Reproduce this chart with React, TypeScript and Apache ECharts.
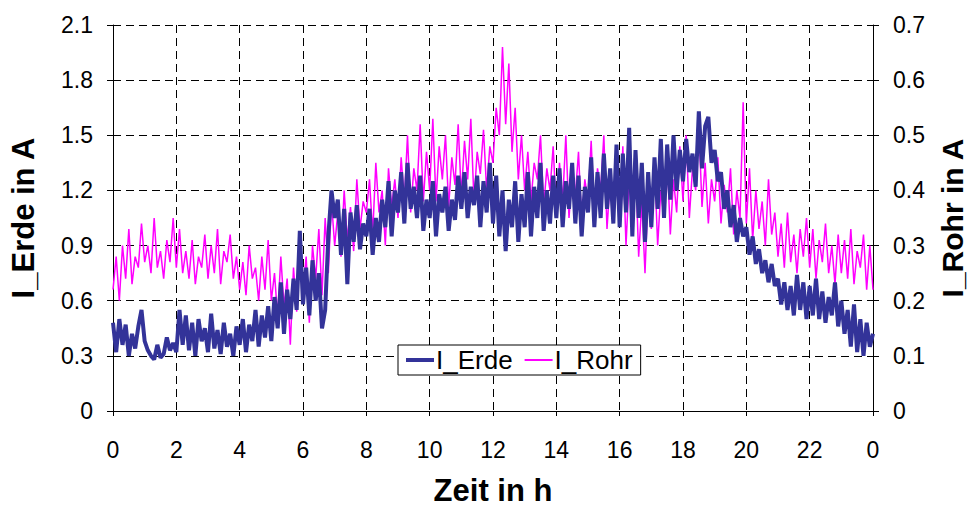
import React, { useEffect, useRef } from "react";
import * as echarts from "echarts";

// Sampling step of the readings: one value every 0.1 h, from 0 h to 24 h
const STEP_H = 0.1;

const xTickLabels = ["0", "2", "4", "6", "8", "10", "12", "14", "16", "18", "20", "22", "0"];

// I_Erde in A (left axis)
const iErde: number[] = [
  0.48, 0.32, 0.50, 0.36, 0.47, 0.30, 0.42, 0.34, 0.46, 0.55,
  0.38, 0.33, 0.30, 0.28, 0.36, 0.29, 0.31, 0.40, 0.33, 0.37,
  0.32, 0.55, 0.36, 0.52, 0.33, 0.48, 0.30, 0.50, 0.38, 0.45,
  0.32, 0.53, 0.34, 0.44, 0.31, 0.48, 0.35, 0.42, 0.30, 0.46,
  0.36, 0.50, 0.32, 0.47, 0.38, 0.55, 0.35, 0.52, 0.40, 0.57,
  0.38, 0.62, 0.45, 0.70, 0.42, 0.66, 0.50, 0.72, 0.55, 0.98,
  0.58, 0.78, 0.52, 0.82, 0.60, 0.75, 0.45, 0.55, 0.95, 1.20,
  1.05, 1.15, 0.85, 1.10, 0.69, 1.08, 0.92, 1.12, 0.88, 1.02,
  0.95, 1.10, 0.85, 1.05, 0.92, 1.15, 1.00, 1.25, 0.95, 1.20,
  1.08, 1.30, 1.02, 1.35, 1.10, 1.22, 1.05, 1.28, 0.98, 1.15,
  1.05, 1.25, 0.95, 1.18, 1.08, 1.22, 0.98, 1.15, 1.04, 1.28,
  1.10, 1.30, 1.05, 1.22, 1.12, 1.28, 1.00, 1.25, 1.08, 1.35,
  1.02, 1.28, 0.95, 1.20, 0.87, 1.15, 1.00, 1.25, 0.92, 1.18,
  1.00, 1.30, 0.95, 1.22, 1.05, 1.35, 0.98, 1.20, 1.02, 1.28,
  1.05, 1.32, 1.00, 1.25, 1.10, 1.35, 1.02, 1.28, 0.95, 1.22,
  1.08, 1.38, 1.00, 1.30, 1.05, 1.40, 1.10, 1.32, 1.02, 1.45,
  1.00, 1.40, 1.08, 1.54, 0.95, 1.42, 1.05, 1.35, 0.92, 1.30,
  1.00, 1.38, 1.10, 1.48, 1.05, 1.45, 1.15, 1.50, 1.20, 1.42,
  1.25, 1.48, 1.30, 1.40, 1.22, 1.63, 1.32, 1.55, 1.60, 1.35,
  1.42, 1.25, 1.30, 1.10, 1.20, 1.00, 1.12, 0.92, 1.05, 0.95,
  1.00, 0.85, 0.95, 0.80, 0.88, 0.75, 0.82, 0.70, 0.80, 0.68,
  0.72, 0.58, 0.70, 0.55, 0.68, 0.52, 0.74, 0.55, 0.70, 0.50,
  0.68, 0.52, 0.72, 0.50, 0.65, 0.48, 0.62, 0.52, 0.70, 0.46,
  0.60, 0.42, 0.55, 0.35, 0.58, 0.32, 0.50, 0.30, 0.48, 0.35,
  0.42,
];

// I_Rohr in A (right axis)
const iRohr: number[] = [
  0.22, 0.28, 0.20, 0.30, 0.24, 0.33, 0.23, 0.28, 0.26, 0.34,
  0.27, 0.30, 0.25, 0.35, 0.26, 0.29, 0.24, 0.31, 0.27, 0.35,
  0.26, 0.33, 0.25, 0.29, 0.24, 0.31, 0.23, 0.28, 0.26, 0.32,
  0.24, 0.30, 0.25, 0.33, 0.23, 0.29, 0.27, 0.32, 0.24, 0.28,
  0.22, 0.27, 0.21, 0.30, 0.24, 0.26, 0.20, 0.28, 0.22, 0.31,
  0.20, 0.25, 0.17, 0.28, 0.19, 0.24, 0.12, 0.26, 0.18, 0.30,
  0.22, 0.28, 0.16, 0.30, 0.24, 0.33, 0.21, 0.35, 0.25, 0.38,
  0.30, 0.36, 0.28, 0.40, 0.31, 0.37, 0.29, 0.42, 0.33, 0.38,
  0.36, 0.42, 0.32, 0.45, 0.36, 0.40, 0.30, 0.44, 0.37, 0.42,
  0.35, 0.46, 0.38, 0.50, 0.36, 0.44, 0.40, 0.52, 0.38, 0.47,
  0.40, 0.53, 0.38, 0.48, 0.42, 0.50, 0.37, 0.46, 0.41, 0.52,
  0.39, 0.49, 0.42, 0.53, 0.38, 0.47, 0.43, 0.51, 0.40, 0.48,
  0.45, 0.55, 0.50, 0.66, 0.52, 0.63, 0.47, 0.55, 0.42, 0.50,
  0.40, 0.47, 0.38, 0.45, 0.42, 0.50, 0.37, 0.44, 0.40, 0.48,
  0.36, 0.45, 0.38, 0.50, 0.35, 0.43, 0.39, 0.47, 0.34, 0.42,
  0.38, 0.49, 0.35, 0.44, 0.40, 0.50, 0.33, 0.42, 0.37, 0.46,
  0.34, 0.48, 0.30, 0.42, 0.36, 0.45, 0.28, 0.38, 0.25, 0.40,
  0.33, 0.45, 0.30, 0.40, 0.35, 0.46, 0.32, 0.42, 0.36, 0.48,
  0.38, 0.50, 0.35, 0.44, 0.40, 0.52, 0.37, 0.45, 0.34, 0.42,
  0.38, 0.46, 0.34, 0.41, 0.36, 0.44, 0.32, 0.40, 0.35, 0.56,
  0.34, 0.44, 0.31, 0.40, 0.33, 0.38, 0.30, 0.42, 0.32, 0.36,
  0.28, 0.34, 0.26, 0.36, 0.27, 0.32, 0.25, 0.33, 0.28, 0.35,
  0.26, 0.33, 0.24, 0.31, 0.27, 0.34, 0.25, 0.30, 0.23, 0.32,
  0.25, 0.31, 0.24, 0.33, 0.23, 0.29, 0.26, 0.32, 0.22, 0.30,
  0.22,
];

const FONT = "'Liberation Sans', Arial, sans-serif";

export default function App() {
  const ref = useRef<HTMLDivElement>(null);

  useEffect(() => {
    if (!ref.current) return;
    const chart = echarts.init(ref.current, undefined, { renderer: "svg" });

    const toPairs = (arr: number[]) =>
      arr.map((v, i) => [Math.round(i * STEP_H * 10) / 10, v]);

    const dashed = { color: "#000", width: 1, type: [8, 5] as any };

    chart.setOption({
      animation: false,
      backgroundColor: "#fff",
      textStyle: { fontFamily: FONT, color: "#000" },
      grid: {
        left: 113,
        right: 104,
        top: 25,
        bottom: 97,
        containLabel: false,
        outerBoundsMode: "none",
      },
      legend: {
        left: 398,
        top: 345,
        orient: "horizontal",
        backgroundColor: "#fff",
        borderColor: "#000",
        borderWidth: 1,
        borderRadius: 0,
        padding: [2, 8],
        itemGap: 12,
        itemWidth: 28,
        itemHeight: 14,
        symbolKeepAspect: true,
        textStyle: { fontFamily: FONT, fontSize: 26, color: "#000", padding: [0, 0, 0, -3] },
        data: [
          { name: "I_Erde", icon: "path://M0 0H28V4H0Z", itemStyle: { color: "#333399" } },
          { name: "I_Rohr", icon: "path://M0 0H28V2H0Z", itemStyle: { color: "#FF00FF" } },
        ],
      },
      xAxis: {
        type: "value",
        min: 0,
        max: 24,
        interval: 2,
        name: "Zeit in h",
        nameLocation: "middle",
        nameGap: 64,
        nameTextStyle: { fontFamily: FONT, fontSize: 31, fontWeight: "bold", color: "#000" },
        axisLine: { show: true, lineStyle: { color: "#000", width: 1 } },
        axisTick: { show: true, length: 5, lineStyle: { color: "#000" } },
        axisLabel: {
          fontFamily: FONT,
          fontSize: 23,
          color: "#000",
          margin: 27,
          formatter: (v: number) => xTickLabels[Math.round(v / 2)] ?? String(v),
        },
        splitLine: { show: true, lineStyle: dashed },
      },
      yAxis: [
        {
          type: "value",
          min: 0,
          max: 2.1,
          interval: 0.3,
          name: "I_Erde in A",
          nameLocation: "middle",
          nameGap: 74,
          nameTextStyle: { fontFamily: FONT, fontSize: 31, fontWeight: "bold", color: "#000" },
          axisLine: { show: true, lineStyle: { color: "#000", width: 1 } },
          axisTick: { show: true, length: 6, lineStyle: { color: "#000" } },
          axisLabel: {
            fontFamily: FONT,
            fontSize: 23,
            color: "#000",
            margin: 20,
            formatter: (v: number) => (v === 0 ? "0" : v.toFixed(1)),
          },
          splitLine: { show: true, lineStyle: dashed },
        },
        {
          type: "value",
          min: 0,
          max: 0.7,
          interval: 0.1,
          name: "I_Rohr in A",
          nameLocation: "middle",
          nameGap: 64,
          nameRotate: 90,
          nameTextStyle: { fontFamily: FONT, fontSize: 30, fontWeight: "bold", color: "#000" },
          axisLine: { show: true, lineStyle: { color: "#000", width: 1 } },
          axisTick: { show: true, length: 6, lineStyle: { color: "#000" } },
          axisLabel: {
            fontFamily: FONT,
            fontSize: 23,
            color: "#000",
            margin: 20,
            formatter: (v: number) => (v === 0 ? "0" : v.toFixed(1)),
          },
          splitLine: { show: false },
        },
      ],
      series: [
        {
          name: "I_Rohr",
          type: "line",
          yAxisIndex: 1,
          data: toPairs(iRohr),
          symbol: "none",
          showSymbol: false,
          color: "#FF00FF",
          lineStyle: { color: "#FF00FF", width: 1.5 },
          z: 2,
        },
        {
          name: "I_Erde",
          type: "line",
          yAxisIndex: 0,
          data: toPairs(iErde),
          symbol: "none",
          showSymbol: false,
          color: "#333399",
          lineStyle: { color: "#333399", width: 4 },
          z: 3,
        },
      ],
    });

    return () => chart.dispose();
  }, []);

  return <div ref={ref} style={{ width: 977, height: 508, position: "absolute", left: 0, top: 0 }} />;
}
